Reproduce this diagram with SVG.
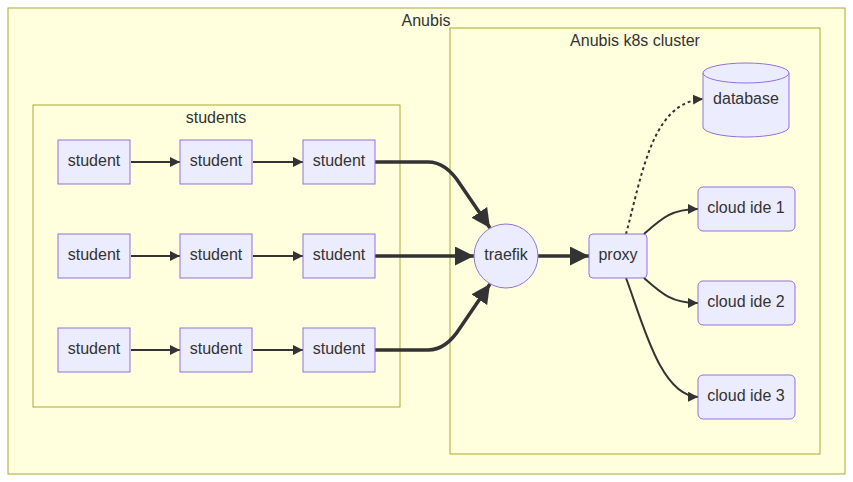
<svg xmlns="http://www.w3.org/2000/svg" width="853" height="482" viewBox="0 0 853 482">
<style>
.cluster{fill:#ffffde;stroke:#aaaa33;stroke-width:1}
.node{fill:#ECECFF;stroke:#9370DB;stroke-width:1}
text{font-family:"Liberation Sans",Arial,sans-serif;font-size:16px;fill:#333;text-anchor:middle;dominant-baseline:central}
.e{fill:none;stroke:#333;stroke-width:2}
.t{fill:none;stroke:#333;stroke-width:3.5}
.d{fill:none;stroke:#333;stroke-width:2;stroke-dasharray:3 3}
</style>
<defs>
<marker id="a" markerUnits="userSpaceOnUse" viewBox="0 0 10 10" refX="10" refY="5" markerWidth="10" markerHeight="10" orient="auto"><path d="M0,0L10,5L0,10z" fill="#333"/></marker>
<marker id="b" markerUnits="userSpaceOnUse" viewBox="0 0 10 10" refX="10" refY="5" markerWidth="19" markerHeight="19" orient="auto"><path d="M0,0L10,5L0,10z" fill="#333"/></marker>
</defs>
<g id="cluster-anubis"><rect class="cluster" x="8" y="8" width="837" height="466"/><text x="426" y="20">Anubis</text></g>
<g id="cluster-k8s"><rect class="cluster" x="450" y="28" width="370" height="426"/><text x="635" y="40">Anubis k8s cluster</text></g>
<g id="cluster-students"><rect class="cluster" x="33" y="105" width="367" height="302"/><text x="216" y="117">students</text></g>
<g id="connectors">
<path class="e" d="M131,162L180,162" marker-end="url(#a)"/>
<path class="e" d="M253,162L303,162" marker-end="url(#a)"/>
<path class="e" d="M131,256L180,256" marker-end="url(#a)"/>
<path class="e" d="M253,256L303,256" marker-end="url(#a)"/>
<path class="e" d="M131,350L180,350" marker-end="url(#a)"/>
<path class="e" d="M253,350L303,350" marker-end="url(#a)"/>
<path class="t" d="M375,162L428,162Q446,162 460,184L490,228" marker-end="url(#b)"/>
<path class="t" d="M375,256L474,256" marker-end="url(#b)"/>
<path class="t" d="M375,350L428,350Q446,350 460,328L490,284" marker-end="url(#b)"/>
<path class="t" d="M538,256L589,256" marker-end="url(#b)"/>
<path class="d" d="M626,234C642,175 652,102 703,99" marker-end="url(#a)"/>
<path class="e" d="M644,234C662,218 672,209 698,209" marker-end="url(#a)"/>
<path class="e" d="M644,278C662,294 672,303 698,303" marker-end="url(#a)"/>
<path class="e" d="M626,278C642,320 660,396 698,397" marker-end="url(#a)"/>
</g>
<g id="s11"><rect class="node" x="58" y="140" width="72" height="44"/><text x="94" y="160">student</text></g>
<g id="s12"><rect class="node" x="180" y="140" width="72" height="44"/><text x="216" y="160">student</text></g>
<g id="s13"><rect class="node" x="303" y="140" width="72" height="44"/><text x="339" y="160">student</text></g>
<g id="s21"><rect class="node" x="58" y="234" width="72" height="44"/><text x="94" y="254">student</text></g>
<g id="s22"><rect class="node" x="180" y="234" width="72" height="44"/><text x="216" y="254">student</text></g>
<g id="s23"><rect class="node" x="303" y="234" width="72" height="44"/><text x="339" y="254">student</text></g>
<g id="s31"><rect class="node" x="58" y="328" width="72" height="44"/><text x="94" y="348">student</text></g>
<g id="s32"><rect class="node" x="180" y="328" width="72" height="44"/><text x="216" y="348">student</text></g>
<g id="s33"><rect class="node" x="303" y="328" width="72" height="44"/><text x="339" y="348">student</text></g>
<g id="traefik"><circle class="node" cx="506" cy="256" r="32"/><text x="506" y="254">traefik</text></g>
<g id="proxy"><rect class="node" x="589" y="234" width="58" height="44" rx="4"/><text x="618" y="254">proxy</text></g>
<g id="database"><path class="node" d="M703,73A43,10 0 0 1 789,73L789,127A43,10 0 0 1 703,127Z"/><path class="node" d="M703,73A43,10 0 0 0 789,73" fill="none"/><text x="746" y="98">database</text></g>
<g id="ide1"><rect class="node" x="698" y="187" width="97" height="44" rx="5"/><text x="746" y="207">cloud ide 1</text></g>
<g id="ide2"><rect class="node" x="698" y="281" width="97" height="44" rx="5"/><text x="746" y="301">cloud ide 2</text></g>
<g id="ide3"><rect class="node" x="698" y="375" width="97" height="44" rx="5"/><text x="746" y="395">cloud ide 3</text></g>
</svg>
